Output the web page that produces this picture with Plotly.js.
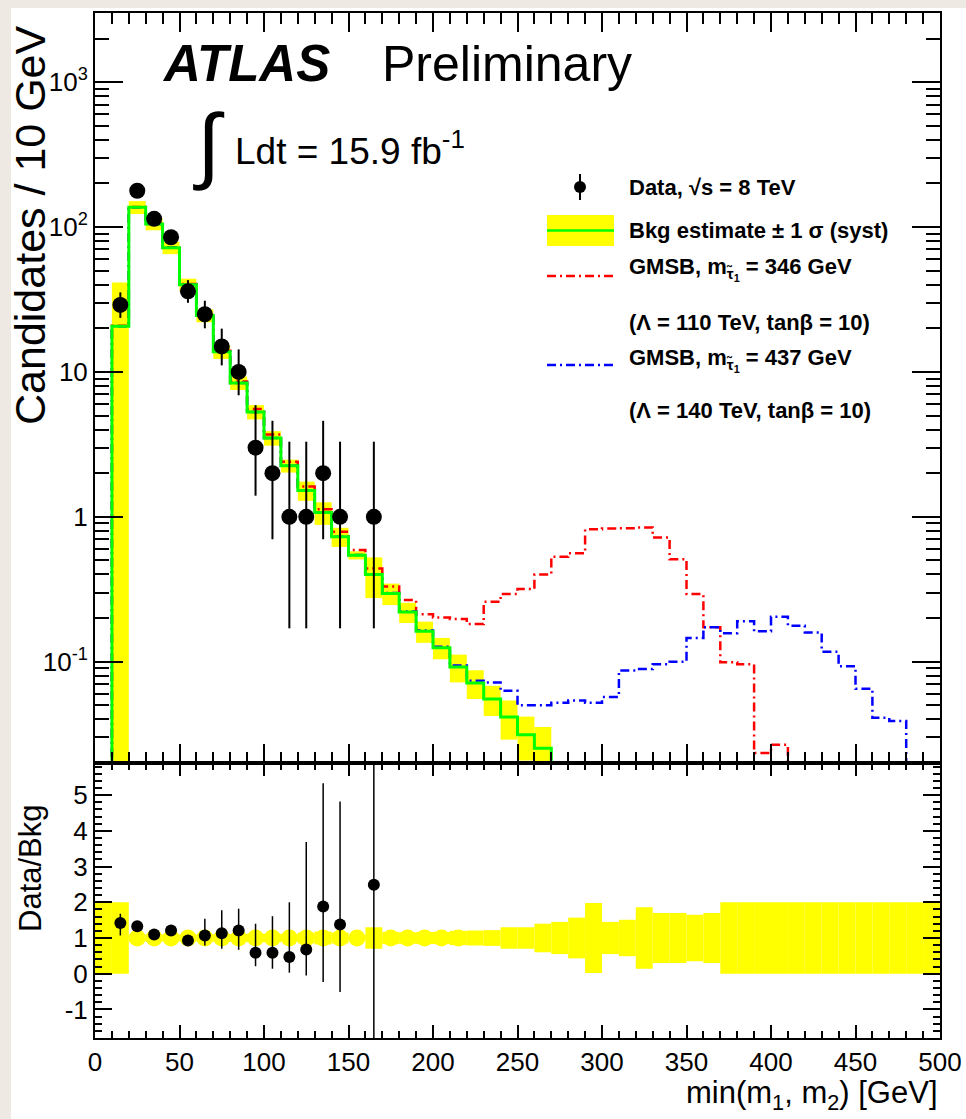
<!DOCTYPE html>
<html><head><meta charset="utf-8">
<script src="https://cdn.plot.ly/plotly-3.0.1.min.js"></script>
<style>html,body{margin:0;padding:0;background:#fff;overflow:hidden;}#plot{width:966px;height:1119px;}</style>
</head><body><div id="plot"></div>
<script>
// ---------------- data ----------------
const binEdges = [0,10,20,30,40,50,60,70,80,90,100,110,120,130,140,150,160,170,180,190,200,210,220,230,240,250,260,270,280,290,300,310,320,330,340,350,360,370,380,390,400,410,420,430,440,450,460,470,480,490,500];

const dataCounts = [0,29,178,114,85,36,25,15,10,3, 2,1,1,2,1,0,1,0,0,0, 0,0,0,0,0,0,0,0,0,0, 0,0,0,0,0,0,0,0,0,0, 0,0,0,0,0,0,0,0,0,0];
const dataErrUp = [0,6.4,14.3,11.7,10.3,7.0,6.0,4.9,4.3,2.9, 2.6,2.3,2.3,2.6,2.3,0,2.3,0,0,0, 0,0,0,0,0,0,0,0,0,0, 0,0,0,0,0,0,0,0,0,0, 0,0,0,0,0,0,0,0,0,0];
const dataErrDown = [0,5.4,13.3,10.7,9.2,6.0,5.0,3.9,3.1,1.6, 1.3,0.83,0.83,1.3,0.83,0,0.83,0,0,0, 0,0,0,0,0,0,0,0,0,0, 0,0,0,0,0,0,0,0,0,0, 0,0,0,0,0,0,0,0,0,0];

const bkgEstimate = [0,20.7,137,105,72,40,24.5,13.8,8.4,5.3, 3.5,2.25,1.52,1.07,0.73,0.543,0.40,0.296,0.22,0.162, 0.125,0.092,0.0713,0.0552,0.0415,0.0313,0.0253,0.012,0.010,0.008, 0.007,0.006,0.005,0.0045,0.004,0.0035,0.003,0.0027,0.0024,0.0021, 0.0019,0.0017,0.0015,0.0013,0.0012,0.0011,0.001,0.0009,0.0008,0.0007];
const bkgSyst = [0,20.7,14,10,7,4,2.5,1.5,0.9,0.6, 0.4,0.23,0.23,0.19,0.11,0.035,0.125,0.05,0.035,0.027, 0.021,0.02,0.016,0.013,0.0125,0.0105,0.0101,0.0054,0.0057,0.0078, 0.0032,0.0031,0.0043,0.0031,0.0028,0.0023,0.0021,0.0027,0.0024,0.0021, 0.0019,0.0017,0.0015,0.0013,0.0012,0.0011,0.001,0.0009,0.0008,0.0007];

const gmsb346 = [0,20.8,137.5,105.5,72.5,40.5,24.8,14.0,8.6,5.55, 3.7,2.4,1.62,1.13,0.79,0.59,0.44,0.33,0.267,0.213, 0.202,0.197,0.182,0.259,0.293,0.317,0.40,0.53,0.56,0.82, 0.83,0.835,0.845,0.72,0.51,0.293,0.173,0.099,0.096,0.0234, 0.0267,0.008,0.006,0.005,0.004,0.003,0.002,0.002,0.001,0.001];
const gmsb437 = [0,20.7,137,105,72,40,24.5,13.8,8.4,5.3, 3.5,2.25,1.52,1.07,0.73,0.545,0.402,0.298,0.222,0.164, 0.127,0.094,0.074,0.072,0.063,0.050,0.050,0.052,0.054,0.052, 0.057,0.087,0.089,0.096,0.10,0.146,0.173,0.157,0.19,0.162, 0.204,0.177,0.159,0.117,0.093,0.065,0.041,0.039,0.010,0.008];

const ratioValues = [null,1.42,1.33,1.1,1.21,0.93,1.07,1.13,1.21,0.59, 0.59,0.47,0.68,1.88,1.38,null,2.49,null,null,null, null,null,null,null,null,null,null,null,null,null, null,null,null,null,null,null,null,null,null,null, null,null,null,null,null,null,null,null,null,null];
const ratioErrUp = [0,0.26,0.1,0.1,0.13,0.14,0.47,0.65,0.61,0.81, 1.02,1.53,3.01,3.45,3.44,0,6,0,0,0, 0,0,0,0,0,0,0,0,0,0, 0,0,0,0,0,0,0,0,0,0, 0,0,0,0,0,0,0,0,0,0];
const ratioErrDown = [0,0.35,0.1,0.1,0.13,0.14,0.28,0.43,0.54,0.38, 0.45,0.44,0.73,2.11,1.89,0,5,0,0,0, 0,0,0,0,0,0,0,0,0,0, 0,0,0,0,0,0,0,0,0,0, 0,0,0,0,0,0,0,0,0,0];
const ratioBand = [1,1,0.1,0.1,0.1,0.1,0.1,0.11,0.11,0.12, 0.12,0.1,0.15,0.18,0.15,0.06,0.3,0.17,0.16,0.17, 0.17,0.2,0.21,0.22,0.3,0.3,0.4,0.45,0.57,0.98, 0.45,0.51,0.86,0.7,0.7,0.65,0.7,1,1,1, 1,1,1,1,1,1,1,1,1,1];
const ratioMarkerBins = [2,21]; // first / last bin drawn with round band markers

const mainYTickVals = [0.1,1,10,100,1000];
const mainYTickText = ['10<sup>-1</sup>','1','10','10<sup>2</sup>','10<sup>3</sup>'];
const ratioYTickVals = [-1,0,1,2,3,4,5];
const ratioYTickText = ['-1','0','1','2','3','4','5'];
const xTickVals = [0,50,100,150,200,250,300,350,400,450,500];

// ---------------- helpers ----------------
const W = 966, H = 1119;
const fx = p => p / W, fy = p => 1 - p / H;
const FONT = '"Liberation Sans", Arial, Helvetica, sans-serif';
const FLOOR = 1e-6;
const centers = binEdges.slice(0, -1).map((e, i) => (e + binEdges[i + 1]) / 2);
const widths = binEdges.slice(0, -1).map((e, i) => binEdges[i + 1] - e);
function stepY(v) { const y = v.map(a => (a > 0 ? a : FLOOR)); y.push(y[y.length - 1]); return y; }

const minorLog = [];
[0.01, 0.1, 1, 10, 100, 1000].forEach(d => { for (let k = 2; k <= 9; k++) minorLog.push(k * d); });

// ---------------- traces ----------------
const bandBase = bkgEstimate.map((b, i) => Math.max(b - bkgSyst[i], FLOOR));
const bandTop = bkgEstimate.map((b, i) => b + bkgSyst[i]);
const traces = [];
traces.push({type: 'bar', x: centers, y: bandTop.map((t, i) => t > FLOOR ? t - bandBase[i] : 0), base: bandBase, width: widths,
  marker: {color: '#ffff00', line: {width: 0}}, xaxis: 'x', yaxis: 'y', hoverinfo: 'skip'});
const DASH = '9px,4px,2px,4px';
traces.push({type: 'scatter', mode: 'lines', x: binEdges, y: stepY(gmsb346), line: {shape: 'hv', color: '#ff0000', width: 2.5, dash: DASH}, xaxis: 'x', yaxis: 'y'});
traces.push({type: 'scatter', mode: 'lines', x: binEdges, y: stepY(gmsb437), line: {shape: 'hv', color: '#0000ff', width: 2.5, dash: DASH}, xaxis: 'x', yaxis: 'y'});
traces.push({type: 'scatter', mode: 'lines', x: binEdges, y: stepY(bkgEstimate), line: {shape: 'hv', color: '#00ff00', width: 3}, xaxis: 'x', yaxis: 'y'});

const idx = dataCounts.map((c, i) => i).filter(i => dataCounts[i] > 0);
traces.push({type: 'scatter', mode: 'markers', x: idx.map(i => centers[i]), y: idx.map(i => dataCounts[i]),
  marker: {color: '#000', size: 16},
  error_y: {type: 'data', symmetric: false, array: idx.map(i => dataErrUp[i]), arrayminus: idx.map(i => dataErrDown[i]), color: '#000', thickness: 2, width: 0},
  xaxis: 'x', yaxis: 'y'});

// ratio panel
traces.push({type: 'bar', x: centers, y: ratioBand.map(b => 2 * b), base: ratioBand.map(b => 1 - b), width: widths,
  marker: {color: '#ffff00', line: {width: 0}}, xaxis: 'x2', yaxis: 'y2', hoverinfo: 'skip'});
const mIdx = centers.map((c, i) => i).filter(i => i >= ratioMarkerBins[0] && i <= ratioMarkerBins[1]);
traces.push({type: 'scatter', mode: 'markers', x: mIdx.map(i => centers[i]), y: mIdx.map(() => 1),
  marker: {color: '#ffff00', size: 17}, xaxis: 'x2', yaxis: 'y2', hoverinfo: 'skip'});
const rIdx = ratioValues.map((v, i) => i).filter(i => ratioValues[i] !== null);
traces.push({type: 'scatter', mode: 'markers', x: rIdx.map(i => centers[i]), y: rIdx.map(i => ratioValues[i]),
  marker: {color: '#000', size: 12},
  error_y: {type: 'data', symmetric: false, array: rIdx.map(i => ratioErrUp[i]), arrayminus: rIdx.map(i => ratioErrDown[i]), color: '#000', thickness: 1.5, width: 0},
  xaxis: 'x2', yaxis: 'y2'});

// ---------------- layout ----------------
const axisCommon = {showline: true, linewidth: 2, linecolor: '#000', mirror: 'allticks', ticks: 'inside', tickwidth: 2, tickcolor: '#000',
  showgrid: false, zeroline: false, tickfont: {family: FONT, size: 26, color: '#000'}};
const xDom = [fx(95), fx(940)];

const ann = [];
function A(x, y, text, size, o) {
  ann.push(Object.assign({xref: 'paper', yref: 'paper', x: fx(x), y: fy(y), text: text, showarrow: false,
    xanchor: 'left', yanchor: 'middle', font: {family: FONT, size: size, color: '#000'}}, o || {}));
}
A(160, 64, '<b><i>ATLAS</i></b>', 51);
A(380, 64, 'Preliminary', 50);
A(209, 144, '\u222B', 84, {xanchor: 'center'});
A(233, 148, 'Ldt = 15.9 fb<sup>-1</sup>', 37);
A(30, 225, 'Candidates / 10 GeV', 43, {xanchor: 'center', textangle: -90});
A(30, 868, 'Data/Bkg', 31, {xanchor: 'center', textangle: -90});
A(940, 1095, 'min(m<sub>1</sub>, m<sub>2</sub>) [GeV]', 31, {xanchor: 'right'});
// legend texts
const LF = 22;
A(627, 187, '<b>Data, \u221As = 8 TeV</b>', LF);
A(627, 230, '<b>Bkg estimate \u00B1 1 \u03C3 (syst)</b>', LF);
A(627, 269, '<b>GMSB, m<sub>\u03C4\u0303<sub>1</sub></sub> = 346 GeV</b>', LF);
A(627, 322, '<b>(\u039B = 110 TeV, tan\u03B2 = 10)</b>', LF);
A(627, 360, '<b>GMSB, m<sub>\u03C4\u0303<sub>1</sub></sub> = 437 GeV</b>', LF);
A(627, 410, '<b>(\u039B = 140 TeV, tan\u03B2 = 10)</b>', LF);

const shapes = [
  {type: 'rect', xref: 'paper', yref: 'paper', x0: 0, x1: fx(11), y0: 0, y1: 1, fillcolor: '#eeeae3', line: {width: 0}, layer: 'below'},
  {type: 'rect', xref: 'paper', yref: 'paper', x0: 0, x1: 1, y0: fy(8), y1: 1, fillcolor: '#eeeae3', line: {width: 0}, layer: 'below'},
  // legend symbols
  {type: 'line', xref: 'paper', yref: 'paper', x0: fx(580), x1: fx(580), y0: fy(174), y1: fy(200), line: {color: '#000', width: 2}},
  {type: 'circle', xref: 'paper', yref: 'paper', xsizemode: 'pixel', ysizemode: 'pixel', xanchor: fx(580), yanchor: fy(187), x0: -6, x1: 6, y0: -6, y1: 6, fillcolor: '#000', line: {width: 0}},
  {type: 'rect', xref: 'paper', yref: 'paper', x0: fx(547), x1: fx(614), y0: fy(246), y1: fy(215), fillcolor: '#ffff00', line: {width: 0}},
  {type: 'line', xref: 'paper', yref: 'paper', x0: fx(547), x1: fx(614), y0: fy(230.5), y1: fy(230.5), line: {color: '#00ff00', width: 2.5}},
  {type: 'line', xref: 'paper', yref: 'paper', x0: fx(547), x1: fx(614), y0: fy(276), y1: fy(276), line: {color: '#ff0000', width: 2.5, dash: DASH}},
  {type: 'line', xref: 'paper', yref: 'paper', x0: fx(547), x1: fx(614), y0: fy(365), y1: fy(365), line: {color: '#0000ff', width: 2.5, dash: DASH}}
];

const layout = {
  width: W, height: H, margin: {l: 0, r: 0, t: 0, b: 0, pad: 0}, paper_bgcolor: '#ffffff', plot_bgcolor: '#ffffff',
  showlegend: false, barmode: 'overlay', font: {family: FONT, size: 26, color: '#000'},
  xaxis: Object.assign({}, axisCommon, {domain: xDom, anchor: 'y', range: [0, 500], showticklabels: false,
    tickmode: 'array', tickvals: xTickVals, ticklen: 19,
    minor: {ticks: 'inside', dtick: 10, tick0: 0, ticklen: 11, tickwidth: 2, tickcolor: '#000', showgrid: false}}),
  yaxis: Object.assign({}, axisCommon, {domain: [fy(763), fy(13)], anchor: 'x', type: 'log',
    range: [Math.log10(0.02), Math.log10(3000)], tickmode: 'array', tickvals: mainYTickVals, ticktext: mainYTickText, ticklen: 28,
    minor: {ticks: 'inside', tickmode: 'array', tickvals: minorLog, ticklen: 14, tickwidth: 2, tickcolor: '#000', showgrid: false}}),
  xaxis2: Object.assign({}, axisCommon, {domain: xDom, anchor: 'y2', range: [0, 500],
    tickmode: 'array', tickvals: xTickVals, ticklen: 13,
    minor: {ticks: 'inside', dtick: 10, tick0: 0, ticklen: 7, tickwidth: 2, tickcolor: '#000', showgrid: false}}),
  yaxis2: Object.assign({}, axisCommon, {domain: [fy(1038), fy(763)], anchor: 'x2', range: [-1.8, 5.9],
    tickmode: 'array', tickvals: ratioYTickVals, ticktext: ratioYTickText, ticklen: 17,
    minor: {ticks: 'inside', dtick: 0.2, tick0: 0, ticklen: 7, tickwidth: 2, tickcolor: '#000', showgrid: false}}),
  annotations: ann, shapes: shapes
};

Plotly.newPlot('plot', traces, layout, {displayModeBar: false, staticPlot: true});
</script></body></html>
